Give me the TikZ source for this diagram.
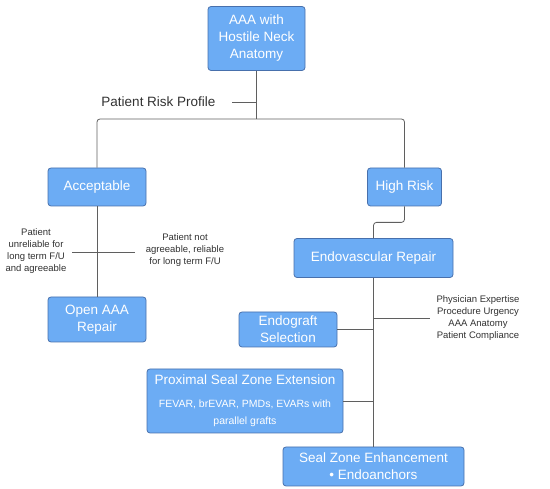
\documentclass[tikz,border=0pt]{standalone}
\usepackage{fontspec}
\setmainfont{Liberation Sans}
\definecolor{boxfill}{RGB}{108,172,244}
\definecolor{boxline}{RGB}{72,112,172}
\definecolor{wire}{RGB}{95,95,95}
\definecolor{labtext}{RGB}{50,50,50}
\begin{document}
\begin{tikzpicture}[x=1pt,y=-1pt,
  box/.style={draw=boxline,line width=0.8pt,fill=boxfill,rounded corners=3pt,text=white,
    align=center,inner sep=2pt,font=\fontsize{13.5}{17}\selectfont},
  wire/.style={draw=wire,line width=0.8pt},
  lab/.style={text=labtext,align=center,inner sep=0pt,font=\fontsize{9.5}{12}\selectfont}]
\useasboundingbox (0,0) rectangle (550,489);
\node[box,minimum width=97pt,minimum height=64pt] (top) at (256.5,38.5) {AAA with\\Hostile Neck\\Anatomy};
\node[box,minimum width=98pt,minimum height=38pt] (acc) at (97,187) {Acceptable};
\node[box,minimum width=74pt,minimum height=38pt] (hr) at (404.5,187) {High Risk};
\node[box,minimum width=159pt,minimum height=39pt] (endo) at (373.5,258) {Endovascular Repair};
\node[box,minimum width=98pt,minimum height=45pt] (open) at (97,319.5) {Open AAA\\Repair};
\node[box,minimum width=98pt,minimum height=35pt] (eg) at (288,329.5) {Endograft\\Selection};
\node[box,minimum width=196pt,minimum height=64pt] (px) at (245,401)
  {Proximal Seal Zone Extension\\[6pt]{\fontsize{10.5}{14}\selectfont FEVAR, brEVAR, PMDs, EVARs with}\\{\fontsize{10.5}{14}\selectfont parallel grafts}};
\node[box,minimum width=181pt,minimum height=39pt] (sz) at (373.5,466.5) {Seal Zone Enhancement\\\textbullet{} Endoanchors};

\node[text=labtext,inner sep=0pt,font=\fontsize{13.5}{16}\selectfont] (prp) at (158.5,101.5) {Patient Risk Profile};
\node[lab] (l1) at (36,251.5) {Patient\\unreliable for\\long term F/U\\and agreeable};
\node[lab] (l2) at (185,250) {Patient not\\agreeable, reliable\\for long term F/U};
\node[lab] (l3) at (478,318) {Physician Expertise\\Procedure Urgency\\AAA Anatomy\\Patient Compliance};

\coordinate (jn) at (256.5,119);
\coordinate (prpt) at (232,102);
\coordinate (lt) at (72,252);
\coordinate (rt) at (135,252);
\coordinate (pt) at (430,318);

\draw[wire] (top.south) -- (jn);
\draw[wire] (prpt) -- (prpt -| jn);
\draw[wire,rounded corners=3pt] (acc.north) |- (jn) -| (hr.north);
\draw[wire] (acc.south) -- (open.north);
\draw[wire] (lt) -- (rt);
\draw[wire,rounded corners=3pt] (hr.south) -- ++(0,16) -| (endo.north);
\draw[wire] (endo.south) -- (sz.north);
\draw[wire] (pt -| endo.south) -- (pt);
\draw[wire] (eg.east) -- (eg.east -| endo.south);
\draw[wire] (px.east) -- (px.east -| endo.south);
\end{tikzpicture}
\end{document}
